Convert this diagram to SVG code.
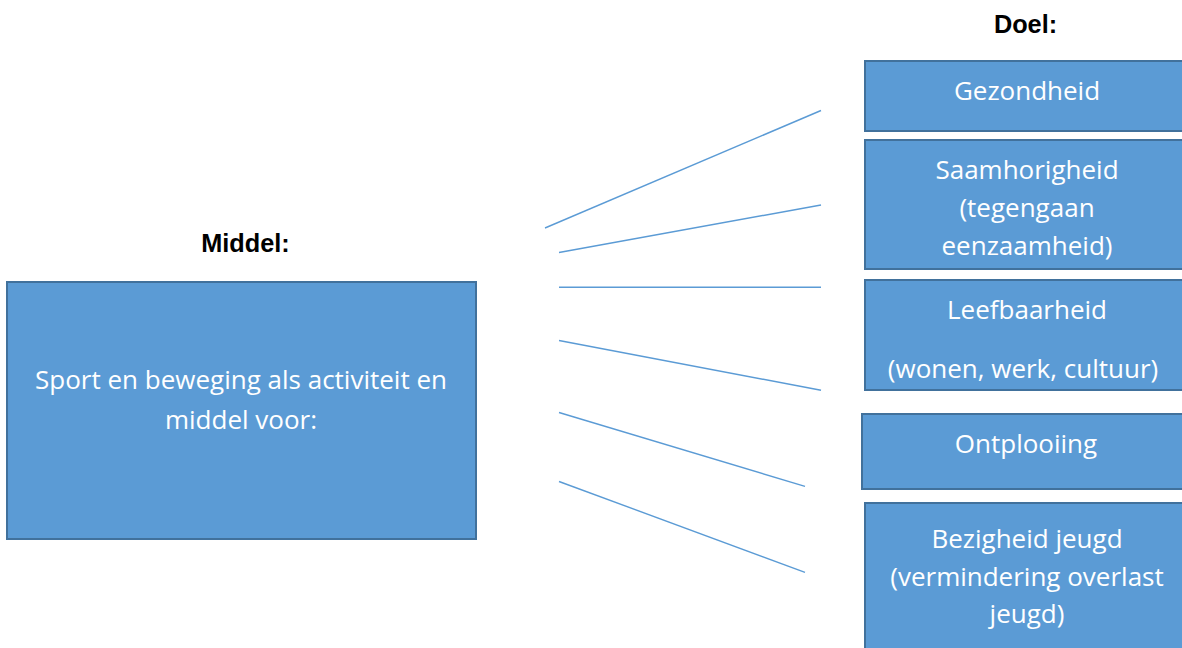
<svg xmlns="http://www.w3.org/2000/svg" width="1182" height="648" viewBox="0 0 1182 648">
<style>
.box{fill:#5B9BD5;stroke:#41719C;stroke-width:2}
.t{font-family:"Open Sans","Liberation Sans",sans-serif;font-size:26px;fill:#ffffff;text-anchor:middle}
.h{font-family:"Liberation Sans",Arial,sans-serif;font-size:25.3px;font-weight:bold;fill:#000000;text-anchor:middle}
.c{stroke:#5B9BD5;stroke-width:1.4;fill:none}
</style>
<rect width="1182" height="648" fill="#ffffff"/>
<text class="h" x="245.5" y="252">Middel:</text>
<text class="h" x="1025.5" y="33">Doel:</text>
<g id="middel">
<rect class="box" x="7" y="282" width="469" height="257"/>
<text class="t" x="241" y="389">Sport en beweging als activiteit en</text>
<text class="t" x="241" y="429">middel voor:</text>
</g>
<g id="gezondheid">
<rect class="box" x="865" y="61" width="326" height="70"/>
<text class="t" x="1027" y="100">Gezondheid</text>
</g>
<g id="saamhorigheid">
<rect class="box" x="865" y="140" width="326" height="129"/>
<text class="t" x="1027" y="179">Saamhorigheid</text>
<text class="t" x="1027" y="217">(tegengaan</text>
<text class="t" x="1027" y="255">eenzaamheid)</text>
</g>
<g id="leefbaarheid">
<rect class="box" x="865" y="280" width="326" height="110"/>
<text class="t" x="1027" y="319">Leefbaarheid</text>
<text class="t" x="1023" y="378">(wonen, werk, cultuur)</text>
</g>
<g id="ontplooiing">
<rect class="box" x="862" y="414" width="329" height="75"/>
<text class="t" x="1026" y="453">Ontplooiing</text>
</g>
<g id="bezigheid">
<rect class="box" x="865" y="503" width="326" height="160"/>
<text class="t" x="1027" y="548">Bezigheid jeugd</text>
<text class="t" x="1027" y="586">(vermindering overlast</text>
<text class="t" x="1027" y="623">jeugd)</text>
</g>
<g id="connectors">
<line class="c" x1="545" y1="228" x2="821" y2="110.5"/>
<line class="c" x1="559" y1="252.5" x2="821" y2="205"/>
<line class="c" x1="559" y1="287.3" x2="821" y2="287.3"/>
<line class="c" x1="559" y1="340.5" x2="821" y2="390.3"/>
<line class="c" x1="559" y1="412.5" x2="805" y2="486.3"/>
<line class="c" x1="559" y1="481.5" x2="805" y2="572.3"/>
</g>
</svg>
